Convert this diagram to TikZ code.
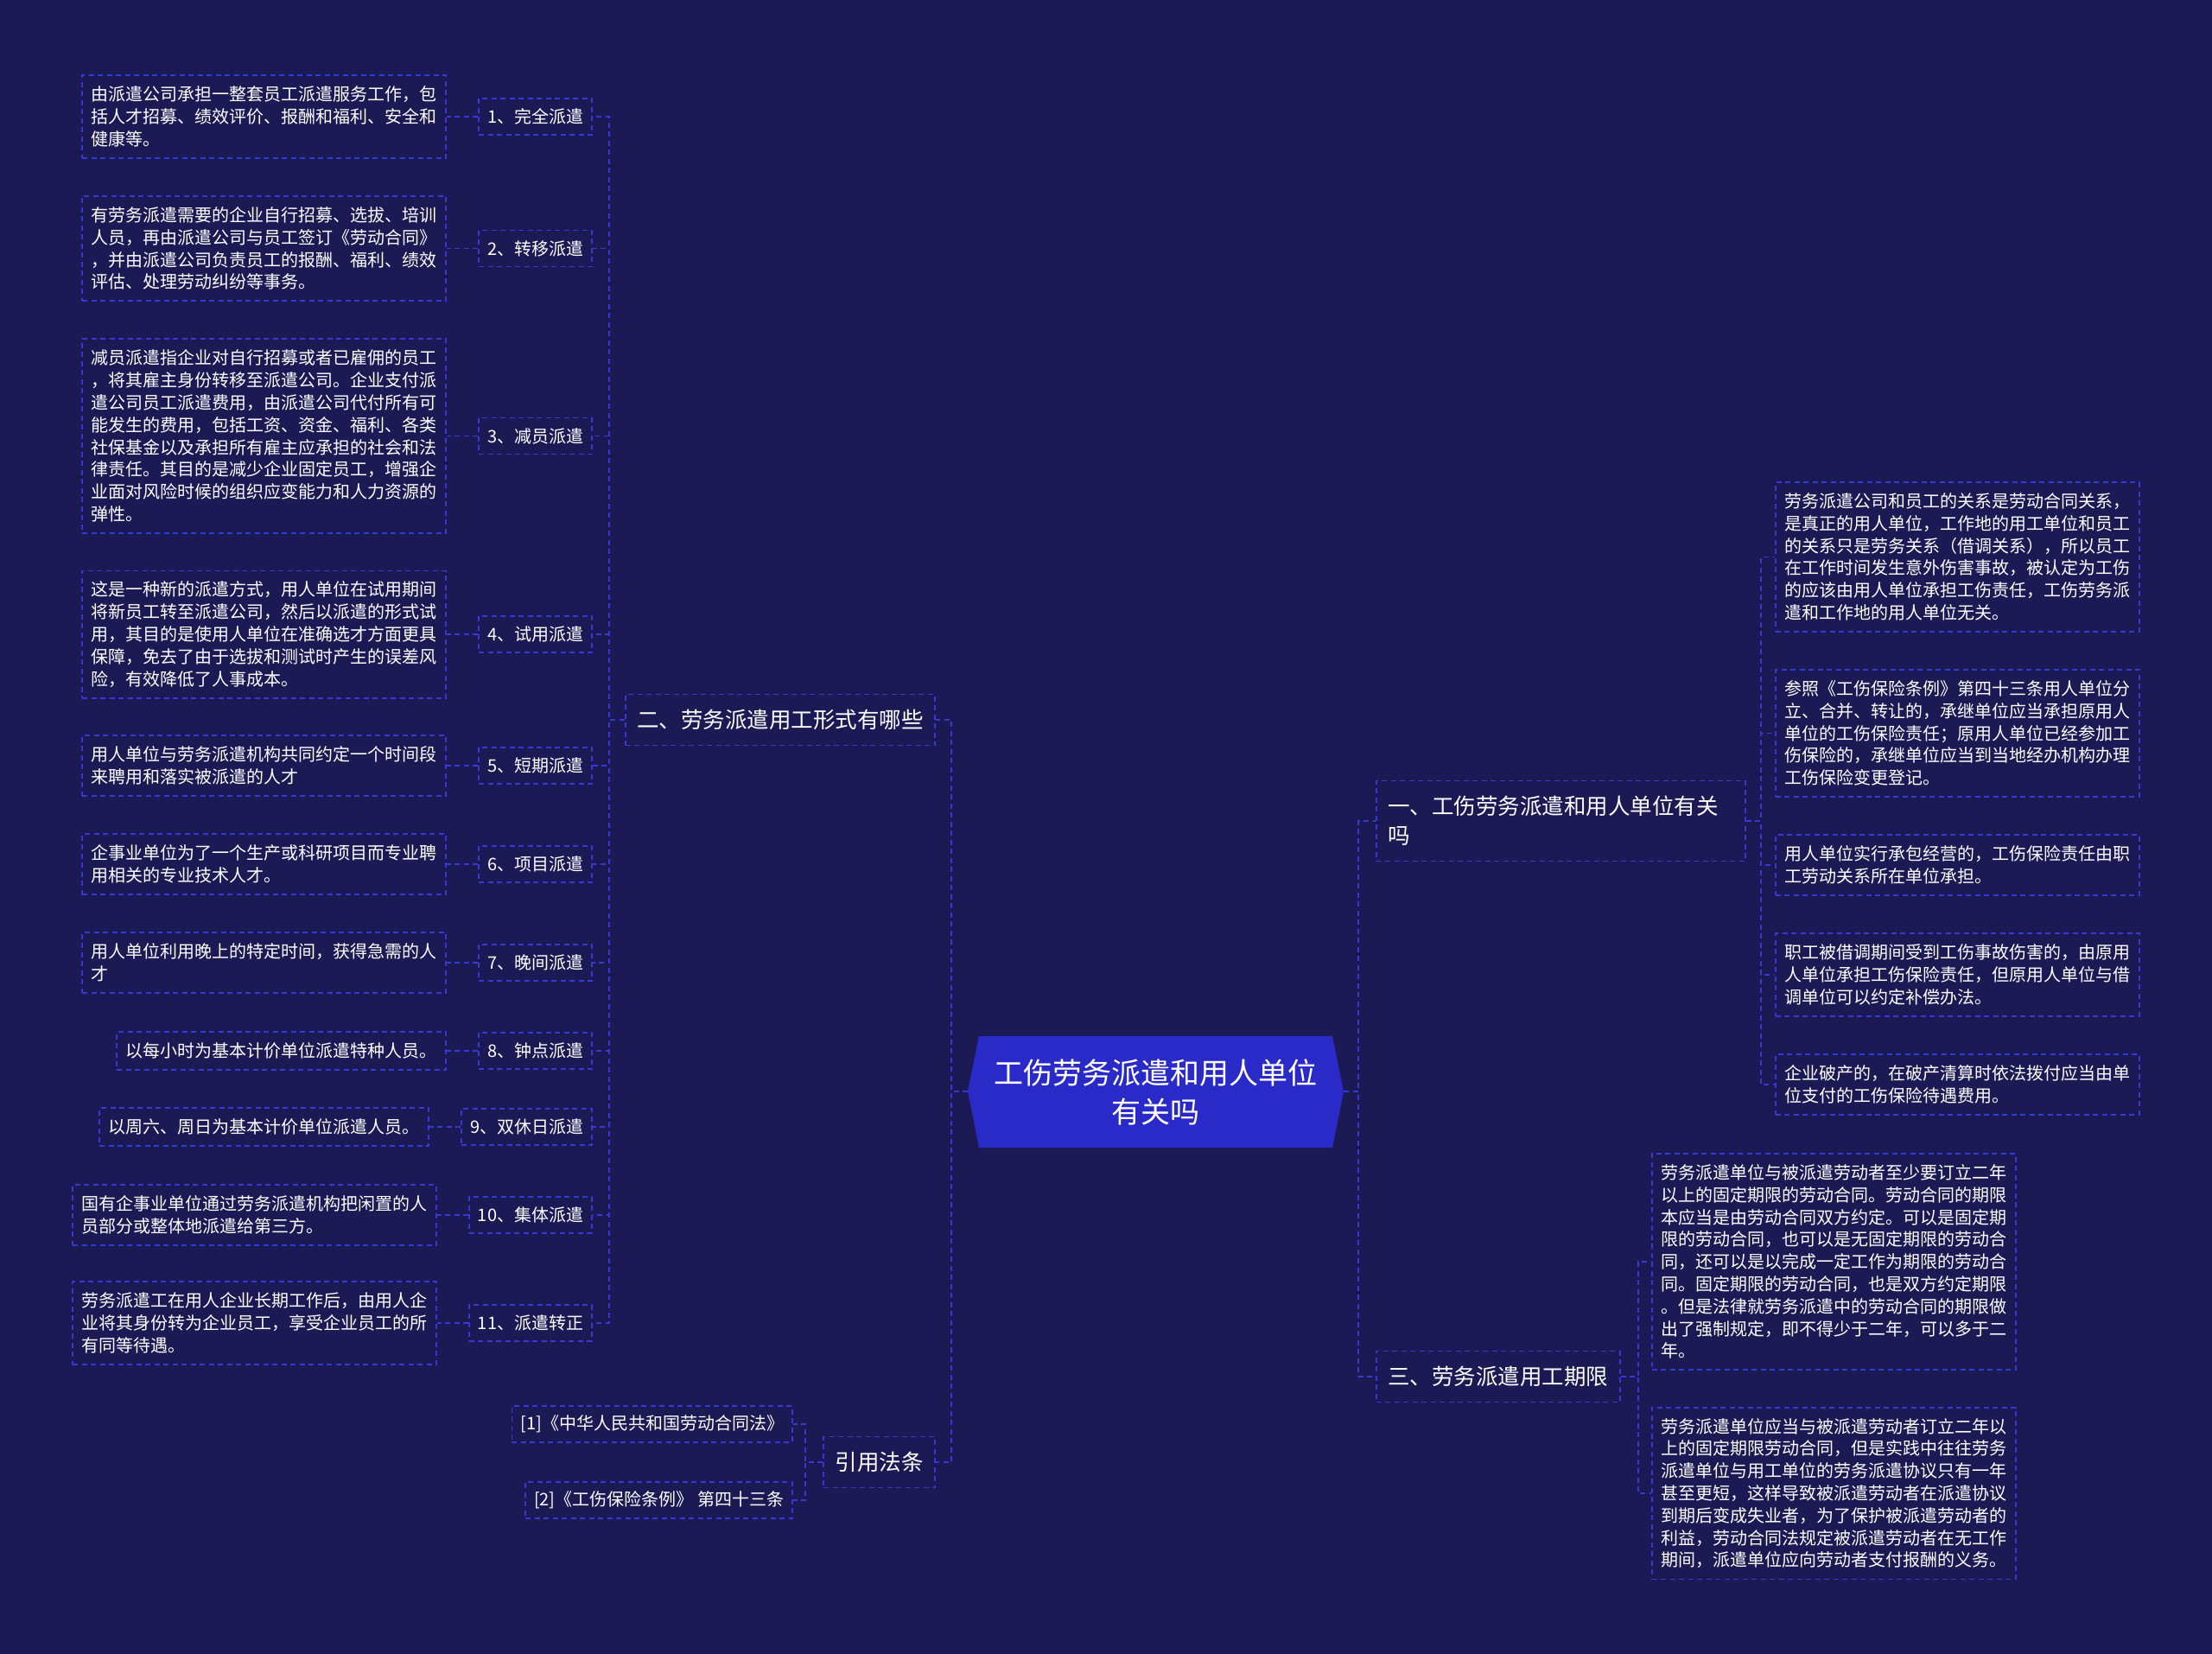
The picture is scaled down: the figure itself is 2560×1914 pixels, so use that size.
\documentclass[tikz,border=0pt]{standalone}
\usepackage{fontspec}
\setmainfont{Noto Sans CJK SC}
\usetikzlibrary{positioning}
\definecolor{bgc}{HTML}{1B1A55}
\definecolor{bdc}{HTML}{3838D2}
\definecolor{cfc}{HTML}{2A2AC8}
\tikzset{
  dline/.style={draw=bdc, line width=1.8pt, dash pattern=on 6pt off 4.5pt},
  conn/.style={dline},
  desc/.style={dline, text=white, align=left, inner xsep=10.5pt, inner ysep=2pt,
    font=\fontsize{20pt}{25.8pt}\selectfont, minimum height={44pt+25.8pt*(#1-1)}},
  desc/.default=1,
  lab/.style={dline, text=white, inner xsep=10pt, inner ysep=1pt, minimum height=42pt,
    font=\fontsize{20pt}{24pt}\selectfont, anchor=east},
  br/.style={dline, text=white, align=left, inner xsep=13.5pt, inner ysep=2pt,
    font=\fontsize{25.5pt}{34pt}\selectfont, minimum height={59pt+34pt*(#1-1)}},
  br/.default=1,
  ctext/.style={text=white, align=center, font=\fontsize{34pt}{45pt}\selectfont}
}
\begin{document}
\begin{tikzpicture}[x=1pt,y=-1pt]
\useasboundingbox (0,0) rectangle (2560,1914);
\fill[bgc] (0,0) rectangle (2560,1914);

% central node
\coordinate (cL) at (1120,1263);
\coordinate (cR) at (1555,1263);
\fill[cfc] (cL) -- (1133,1199) -- (1542,1199) -- (cR) -- (1542,1328) -- (1133,1328) -- cycle;
\node[ctext] (c) at (1337.5,1264) {工伤劳务派遣和用人单位\\有关吗};

% main branches
\node[br, anchor=east] (n2) at (1083,833) {二、劳务派遣用工形式有哪些};
\node[br, anchor=east] (cite) at (1083,1692) {引用法条};
\node[br=2, anchor=west, text width=400pt] (n1) at (1592,950) {一、工伤劳务派遣和用人单位有关\\吗};
\node[br, anchor=west] (n3) at (1592,1593) {三、劳务派遣用工期限};

% left: labels and descriptions
\node[lab] (l1) at (686,135) {1、完全派遣};
\node[desc=3, left=36pt of l1] (d1) {由派遣公司承担一整套员工派遣服务工作，包\\括人才招募、绩效评价、报酬和福利、安全和\\健康等。};
\node[lab] (l2) at (686,287.5) {2、转移派遣};
\node[desc=4, left=36pt of l2] (d2) {有劳务派遣需要的企业自行招募、选拔、培训\\人员，再由派遣公司与员工签订《劳动合同》\\，并由派遣公司负责员工的报酬、福利、绩效\\评估、处理劳动纠纷等事务。};
\node[lab] (l3) at (686,504.5) {3、减员派遣};
\node[desc=8, left=36pt of l3] (d3) {减员派遣指企业对自行招募或者已雇佣的员工\\，将其雇主身份转移至派遣公司。企业支付派\\遣公司员工派遣费用，由派遣公司代付所有可\\能发生的费用，包括工资、资金、福利、各类\\社保基金以及承担所有雇主应承担的社会和法\\律责任。其目的是减少企业固定员工，增强企\\业面对风险时候的组织应变能力和人力资源的\\弹性。};
\node[lab] (l4) at (686,734) {4、试用派遣};
\node[desc=5, left=36pt of l4] (d4) {这是一种新的派遣方式，用人单位在试用期间\\将新员工转至派遣公司，然后以派遣的形式试\\用，其目的是使用人单位在准确选才方面更具\\保障，免去了由于选拔和测试时产生的误差风\\险，有效降低了人事成本。};
\node[lab] (l5) at (686,886) {5、短期派遣};
\node[desc=2, left=36pt of l5] (d5) {用人单位与劳务派遣机构共同约定一个时间段\\来聘用和落实被派遣的人才};
\node[lab] (l6) at (686,1000) {6、项目派遣};
\node[desc=2, left=36pt of l6] (d6) {企事业单位为了一个生产或科研项目而专业聘\\用相关的专业技术人才。};
\node[lab] (l7) at (686,1114) {7、晚间派遣};
\node[desc=2, left=36pt of l7] (d7) {用人单位利用晚上的特定时间，获得急需的人\\才};
\node[lab] (l8) at (686,1216) {8、钟点派遣};
\node[desc=1, left=36pt of l8] (d8) {以每小时为基本计价单位派遣特种人员。};
\node[lab] (l9) at (686,1304) {9、双休日派遣};
\node[desc=1, left=36pt of l9] (d9) {以周六、周日为基本计价单位派遣人员。};
\node[lab] (l10) at (686,1406) {10、集体派遣};
\node[desc=2, left=36pt of l10] (d10) {国有企事业单位通过劳务派遣机构把闲置的人\\员部分或整体地派遣给第三方。};
\node[lab] (l11) at (686,1531) {11、派遣转正};
\node[desc=3, left=36pt of l11] (d11) {劳务派遣工在用人企业长期工作后，由用人企\\业将其身份转为企业员工，享受企业员工的所\\有同等待遇。};

% references
\node[lab] (f1) at (918,1648) {[1]《中华人民共和国劳动合同法》};
\node[lab] (f2) at (918,1736) {[2]《工伤保险条例》 第四十三条};

% right: branch one children
\node[desc=6, anchor=west] (r1) at (2054,644.5) {劳务派遣公司和员工的关系是劳动合同关系，\\是真正的用人单位，工作地的用工单位和员工\\的关系只是劳务关系（借调关系），所以员工\\在工作时间发生意外伤害事故，被认定为工伤\\的应该由用人单位承担工伤责任，工伤劳务派\\遣和工作地的用人单位无关。};
\node[desc=5, anchor=west] (r2) at (2054,848.5) {参照《工伤保险条例》第四十三条用人单位分\\立、合并、转让的，承继单位应当承担原用人\\单位的工伤保险责任；原用人单位已经参加工\\伤保险的，承继单位应当到当地经办机构办理\\工伤保险变更登记。};
\node[desc=2, anchor=west] (r3) at (2054,1001) {用人单位实行承包经营的，工伤保险责任由职\\工劳动关系所在单位承担。};
\node[desc=3, anchor=west] (r4) at (2054,1128) {职工被借调期间受到工伤事故伤害的，由原用\\人单位承担工伤保险责任，但原用人单位与借\\调单位可以约定补偿办法。};
\node[desc=2, anchor=west] (r5) at (2054,1255) {企业破产的，在破产清算时依法拨付应当由单\\位支付的工伤保险待遇费用。};

% right: branch three children
\node[desc=9, anchor=west] (t1) at (1911,1460) {劳务派遣单位与被派遣劳动者至少要订立二年\\以上的固定期限的劳动合同。劳动合同的期限\\本应当是由劳动合同双方约定。可以是固定期\\限的劳动合同，也可以是无固定期限的劳动合\\同，还可以是以完成一定工作为期限的劳动合\\同。固定期限的劳动合同，也是双方约定期限\\。但是法律就劳务派遣中的劳动合同的期限做\\出了强制规定，即不得少于二年，可以多于二\\年。};
\node[desc=7, anchor=west] (t2) at (1911,1728) {劳务派遣单位应当与被派遣劳动者订立二年以\\上的固定期限劳动合同，但是实践中往往劳务\\派遣单位与用工单位的劳务派遣协议只有一年\\甚至更短，这样导致被派遣劳动者在派遣协议\\到期后变成失业者，为了保护被派遣劳动者的\\利益，劳动合同法规定被派遣劳动者在无工作\\期间，派遣单位应向劳动者支付报酬的义务。};

% connectors
\draw[conn] (cL) -- ++(-19,0) |- (n2.east);
\draw[conn] (cL) -- ++(-19,0) |- (cite.east);
\draw[conn] (cR) -- ++(17,0) |- (n1.west);
\draw[conn] (cR) -- ++(17,0) |- (n3.west);
\foreach \i in {1,...,11} {
  \draw[conn] (n2.west) -- ++(-18,0) |- (l\i.east);
  \draw[conn] (l\i.west) -- (d\i.east);
}
\foreach \i in {1,...,5} \draw[conn] (n1.east) -- ++(17,0) |- (r\i.west);
\foreach \i in {1,2} \draw[conn] (n3.east) -- ++(20,0) |- (t\i.west);
\foreach \i in {1,2} \draw[conn] (cite.west) -- ++(-20,0) |- (f\i.east);
\end{tikzpicture}
\end{document}
